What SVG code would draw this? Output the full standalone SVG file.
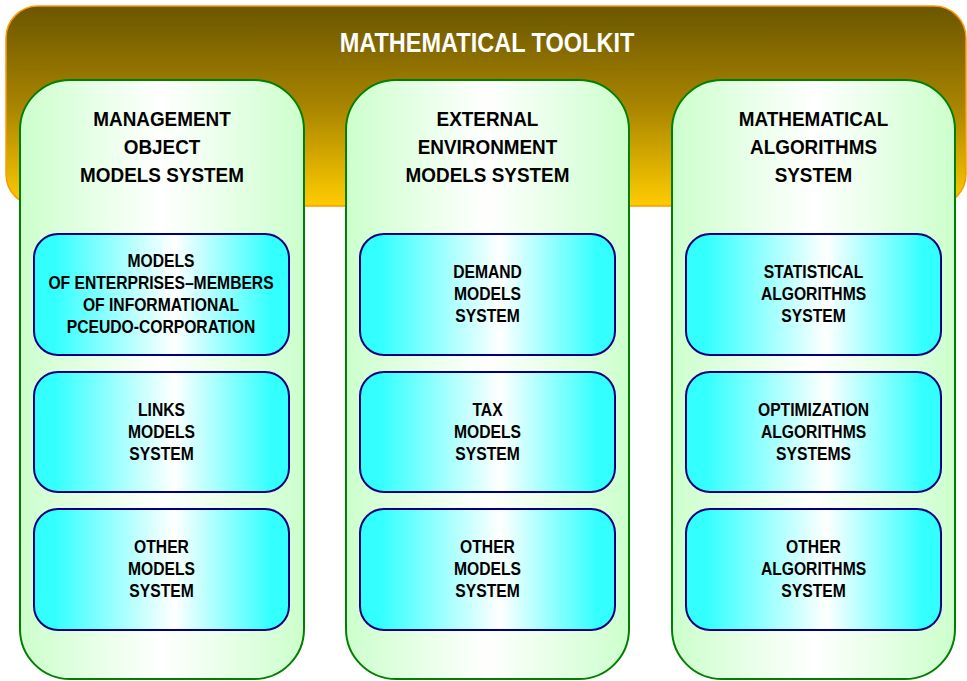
<svg xmlns="http://www.w3.org/2000/svg" width="967" height="681" viewBox="0 0 967 681">
  <defs>
    <linearGradient id="gHeader" x1="0" y1="0" x2="0" y2="1">
      <stop offset="0" stop-color="#6b5600"/>
      <stop offset="0.5" stop-color="#a88400"/>
      <stop offset="1" stop-color="#ffcc00"/>
    </linearGradient>
    <linearGradient id="gCol" x1="0" y1="0" x2="1" y2="0">
      <stop offset="0" stop-color="#ccffcc"/>
      <stop offset="0.5" stop-color="#ffffff"/>
      <stop offset="1" stop-color="#ccffcc"/>
    </linearGradient>
    <linearGradient id="gBox" x1="0" y1="0" x2="1" y2="0">
      <stop offset="0" stop-color="#33ffff"/>
      <stop offset="0.08" stop-color="#33ffff"/>
      <stop offset="0.55" stop-color="#ffffff"/>
      <stop offset="0.93" stop-color="#33ffff"/>
      <stop offset="1" stop-color="#33ffff"/>
    </linearGradient>
  </defs>
  <style>
    .hdr { fill: url(#gHeader); stroke: #ff9900; stroke-width: 1.5; }
    .col { fill: url(#gCol); stroke: #008000; stroke-width: 2; }
    .box { fill: url(#gBox); stroke: #000080; stroke-width: 2; }
    text { font-family: "Liberation Sans", Arial, sans-serif; font-weight: bold; text-anchor: middle; }
    .title { font-size: 28px; fill: #ffffff; }
    .ct { font-size: 21px; fill: #000000; }
    .bt { font-size: 18px; fill: #000000; }
  </style>

  <g id="toolkit">
    <rect class="hdr" x="6" y="6" width="960" height="200" rx="32" ry="32"/>
    <text class="title" transform="translate(487 0) scale(0.84 1)"><tspan x="0" y="52">MATHEMATICAL TOOLKIT</tspan></text>
  </g>

  <g id="col-management">
    <rect class="col" x="20" y="80" width="284" height="599" rx="50" ry="50"/>
    <text class="ct" transform="translate(162 0) scale(0.9 1)"><tspan x="0" y="126.5">MANAGEMENT</tspan><tspan x="0" y="154.5">OBJECT</tspan><tspan x="0" y="182.5">MODELS SYSTEM</tspan></text>
  </g>
  <g id="col-external">
    <rect class="col" x="346" y="80" width="283" height="599" rx="50" ry="50"/>
    <text class="ct" transform="translate(487.5 0) scale(0.9 1)"><tspan x="0" y="126.5">EXTERNAL</tspan><tspan x="0" y="154.5">ENVIRONMENT</tspan><tspan x="0" y="182.5">MODELS SYSTEM</tspan></text>
  </g>
  <g id="col-algorithms">
    <rect class="col" x="672" y="80" width="283" height="599" rx="50" ry="50"/>
    <text class="ct" transform="translate(813.5 0) scale(0.9 1)"><tspan x="0" y="126.5">MATHEMATICAL</tspan><tspan x="0" y="154.5">ALGORITHMS</tspan><tspan x="0" y="182.5">SYSTEM</tspan></text>
  </g>

  <g id="box-enterprises">
    <rect class="box" x="34" y="234" width="255" height="121" rx="24" ry="24"/>
    <text class="bt" transform="translate(161 0) scale(0.87 1)"><tspan x="0" y="267">MODELS</tspan><tspan x="0" y="289">OF ENTERPRISES–MEMBERS</tspan><tspan x="0" y="311">OF INFORMATIONAL</tspan><tspan x="0" y="333">PCEUDO-CORPORATION</tspan></text>
  </g>
  <g id="box-links">
    <rect class="box" x="34" y="372" width="255" height="120" rx="24" ry="24"/>
    <text class="bt" transform="translate(161.5 0) scale(0.87 1)"><tspan x="0" y="416">LINKS</tspan><tspan x="0" y="438">MODELS</tspan><tspan x="0" y="460">SYSTEM</tspan></text>
  </g>
  <g id="box-other-models-1">
    <rect class="box" x="34" y="509" width="255" height="121" rx="24" ry="24"/>
    <text class="bt" transform="translate(161.5 0) scale(0.87 1)"><tspan x="0" y="553">OTHER</tspan><tspan x="0" y="575">MODELS</tspan><tspan x="0" y="597">SYSTEM</tspan></text>
  </g>

  <g id="box-demand">
    <rect class="box" x="360" y="234" width="255" height="121" rx="24" ry="24"/>
    <text class="bt" transform="translate(487.5 0) scale(0.87 1)"><tspan x="0" y="278">DEMAND</tspan><tspan x="0" y="300">MODELS</tspan><tspan x="0" y="322">SYSTEM</tspan></text>
  </g>
  <g id="box-tax">
    <rect class="box" x="360" y="372" width="255" height="120" rx="24" ry="24"/>
    <text class="bt" transform="translate(487.5 0) scale(0.87 1)"><tspan x="0" y="416">TAX</tspan><tspan x="0" y="438">MODELS</tspan><tspan x="0" y="460">SYSTEM</tspan></text>
  </g>
  <g id="box-other-models-2">
    <rect class="box" x="360" y="509" width="255" height="121" rx="24" ry="24"/>
    <text class="bt" transform="translate(487.5 0) scale(0.87 1)"><tspan x="0" y="553">OTHER</tspan><tspan x="0" y="575">MODELS</tspan><tspan x="0" y="597">SYSTEM</tspan></text>
  </g>

  <g id="box-statistical">
    <rect class="box" x="686" y="234" width="255" height="121" rx="24" ry="24"/>
    <text class="bt" transform="translate(813.5 0) scale(0.87 1)"><tspan x="0" y="278">STATISTICAL</tspan><tspan x="0" y="300">ALGORITHMS</tspan><tspan x="0" y="322">SYSTEM</tspan></text>
  </g>
  <g id="box-optimization">
    <rect class="box" x="686" y="372" width="255" height="120" rx="24" ry="24"/>
    <text class="bt" transform="translate(813.5 0) scale(0.87 1)"><tspan x="0" y="416">OPTIMIZATION</tspan><tspan x="0" y="438">ALGORITHMS</tspan><tspan x="0" y="460">SYSTEMS</tspan></text>
  </g>
  <g id="box-other-algorithms">
    <rect class="box" x="686" y="509" width="255" height="121" rx="24" ry="24"/>
    <text class="bt" transform="translate(813.5 0) scale(0.87 1)"><tspan x="0" y="553">OTHER</tspan><tspan x="0" y="575">ALGORITHMS</tspan><tspan x="0" y="597">SYSTEM</tspan></text>
  </g>

  <g id="connectors"/>
</svg>
